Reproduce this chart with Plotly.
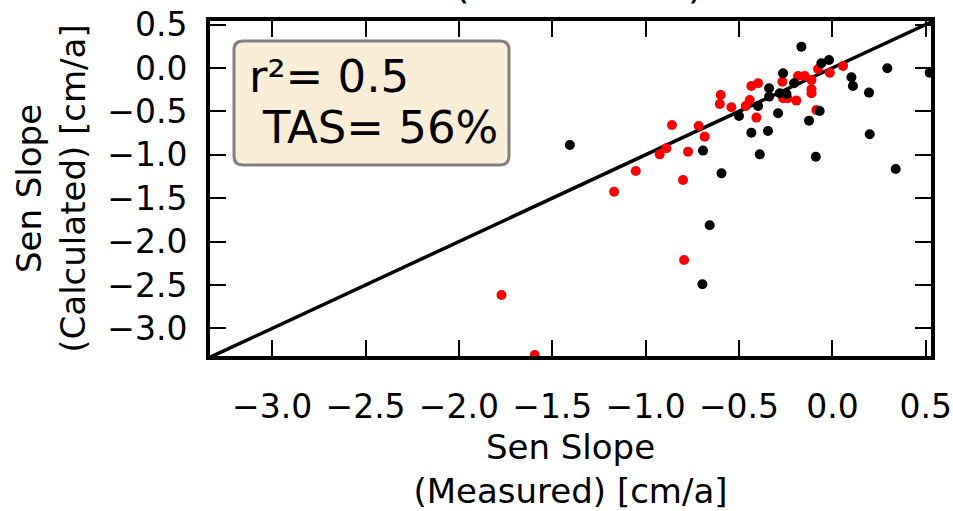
import plotly.graph_objects as go

# Sen slope of subsidence: measured vs. calculated [cm/a]
measured_black = [-1.406, -0.166, -0.059, -0.018, -0.264, 0.294, 0.521, 0.102, 0.110, 0.196,
                  -0.205, -0.339, -0.339, -0.282, -0.246, -0.398, -0.500, -0.291, -0.068, -0.125,
                  -0.434, -0.345, 0.200, -0.693, -0.389, -0.089, -0.594, 0.339, -0.657, -0.696]
calculated_black = [-0.887, 0.245, 0.054, 0.092, -0.061, -0.004, -0.054, -0.107, -0.207, -0.284,
                    -0.177, -0.234, -0.330, -0.292, -0.300, -0.438, -0.553, -0.522, -0.495, -0.607,
                    -0.745, -0.726, -0.764, -0.952, -0.995, -1.022, -1.214, -1.164, -1.812, -2.492]

measured_red = [0.057, -0.077, -0.014, -0.184, -0.148, -0.112, -0.268, -0.434, -0.398, -0.112,
                -0.112, -0.264, -0.240, -0.193, -0.598, -0.603, -0.541, -0.443, -0.464, -0.086,
                -0.407, -0.859, -0.716, -0.684, -0.889, -0.925, -0.773, -1.053, -0.800, -1.169,
                -0.794, -1.772, -1.594]
calculated_red = [0.023, -0.012, -0.054, -0.092, -0.092, -0.138, -0.158, -0.207, -0.177, -0.246,
                  -0.292, -0.349, -0.349, -0.376, -0.311, -0.415, -0.453, -0.369, -0.438, -0.484,
                  -0.572, -0.657, -0.668, -0.791, -0.925, -0.995, -0.964, -1.187, -1.290, -1.425,
                  -2.212, -2.615, -3.306]

tick_values = [-3.0, -2.5, -2.0, -1.5, -1.0, -0.5, 0.0, 0.5]
tick_labels = ["\u22123.0", "\u22122.5", "\u22122.0", "\u22121.5", "\u22121.0", "\u22120.5", "0.0", "0.5"]
one_to_one = [-3.5, 0.7]

stats_lines = ["r\u00b2= 0.5", "TAS= 56%"]
period_text = "(2004-2016)"

FONT = "DejaVu Sans"
W, H = 953, 511
ML, MR, MT, MB = 210, 22, 21, 155
PW, PH = W - ML - MR, H - MT - MB


def paper_x(px):
    return (px - ML) / PW


def paper_y(py):
    return (MT + PH - py) / PH


fig = go.Figure()
fig.add_trace(go.Scatter(x=one_to_one, y=one_to_one, mode="lines",
                         line=dict(color="black", width=3.5), showlegend=False))
fig.add_trace(go.Scatter(x=measured_red, y=calculated_red, mode="markers",
                         marker=dict(color="#ff0000", size=10, line=dict(width=0)),
                         showlegend=False))
fig.add_trace(go.Scatter(x=measured_black, y=calculated_black, mode="markers",
                         marker=dict(color="#000000", size=10, line=dict(width=0)),
                         showlegend=False))


def rounded_box(x0, y0, x1, y1, r):
    # pixel box (top-left origin) -> rounded rectangle path in paper coordinates
    px, py = paper_x, paper_y
    p = [
        f"M {px(x0 + r)},{py(y0)}",
        f"L {px(x1 - r)},{py(y0)}",
        f"Q {px(x1)},{py(y0)} {px(x1)},{py(y0 + r)}",
        f"L {px(x1)},{py(y1 - r)}",
        f"Q {px(x1)},{py(y1)} {px(x1 - r)},{py(y1)}",
        f"L {px(x0 + r)},{py(y1)}",
        f"Q {px(x0)},{py(y1)} {px(x0)},{py(y1 - r)}",
        f"L {px(x0)},{py(y0 + r)}",
        f"Q {px(x0)},{py(y0)} {px(x0 + r)},{py(y0)}",
        "Z",
    ]
    return " ".join(p)


fig.add_shape(type="path", xref="paper", yref="paper",
              path=rounded_box(234, 41, 509, 165, 9),
              fillcolor="#faeed9", line=dict(color="#808080", width=3), layer="above")

# stats box text, one annotation per line
for text, left, centre in zip(stats_lines, [247, 260], [76, 128]):
    fig.add_annotation(xref="paper", yref="paper", x=paper_x(left), y=paper_y(centre),
                       xanchor="left", yanchor="middle", align="left", showarrow=False,
                       text=text, font=dict(family=FONT, size=45, color="black"))

fig.add_annotation(xref="paper", yref="paper", x=paper_x(578), y=paper_y(-16),
                   xanchor="center", yanchor="middle", showarrow=False,
                   text=period_text, font=dict(family=FONT, size=40, color="black"))

axis_common = dict(
    tickvals=tick_values, ticktext=tick_labels,
    ticks="inside", ticklen=16, tickwidth=2, tickcolor="black",
    showline=True, linecolor="black", linewidth=4, mirror="ticks",
    showgrid=False, zeroline=False, automargin=False,
    tickfont=dict(family=FONT, size=33, color="black"),
)

fig.update_xaxes(range=[-3.333, 0.528],
                 title=dict(text="Sen Slope<br>(Measured) [cm/a]",
                            font=dict(family=FONT, size=34, color="black"), standoff=14),
                 ticklabelstandoff=18, **axis_common)
fig.update_yaxes(range=[-3.318, 0.541],
                 title=dict(text="Sen Slope<br>(Calculated) [cm/a]",
                            font=dict(family=FONT, size=34, color="black"), standoff=12),
                 ticklabelstandoff=12, **axis_common)

fig.update_layout(width=W, height=H, margin=dict(l=ML, r=MR, t=MT, b=MB),
                  plot_bgcolor="white", paper_bgcolor="white")

fig.write_html("out.html")
